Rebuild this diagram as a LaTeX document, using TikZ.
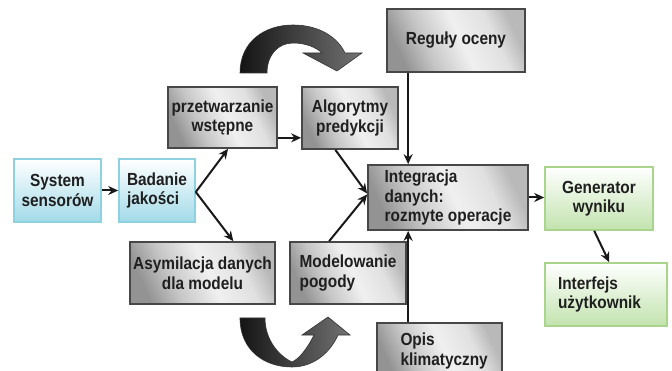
\documentclass[tikz,border=0pt]{standalone}
\usepackage{fontspec}
\setmainfont{Liberation Sans}[FakeStretch=0.88]
\usetikzlibrary{calc,arrows.meta}

\definecolor{blueedge}{HTML}{8ED2E2}
\definecolor{bluefill}{HTML}{A2DAE8}
\definecolor{greenedge}{HTML}{A8D48C}
\definecolor{greenfill}{HTML}{C2E3AE}
\definecolor{frame}{HTML}{474747}

% silver face of the grey process boxes
\pgfdeclarehorizontalshading{silverbox}{100bp}{%
  color(0bp)=(gray!85); color(25bp)=(gray!85); color(37bp)=(gray!45);
  color(52bp)=(gray!12); color(66bp)=(gray!24); color(75bp)=(gray!55);
  color(100bp)=(gray!55)}

\tikzset{
  lbl/.style={font=\fontsize{17.5}{19.5}\selectfont\bfseries, inner sep=0pt, text=black!88},
  greybox/.style={lbl, draw=frame, line width=1.7pt, shading=silverbox, shading angle=25},
  bluebox/.style={lbl, draw=blueedge, line width=1.6pt, top color=white, bottom color=bluefill},
  greenbox/.style={lbl, draw=greenedge, line width=1.6pt, top color=white, bottom color=greenfill},
  arr/.style={draw=black!90, line width=2pt, -{Stealth[length=10pt,width=9pt]}},
  bigarrow/.style={left color=black!92, right color=black!55, draw=black!80, line width=0.6pt}
}

\begin{document}
\begin{tikzpicture}[x=1pt,y=-1pt]
\useasboundingbox (0,0) rectangle (672,371);

% boxes
\node[bluebox, minimum width=87pt, minimum height=63pt, align=center] (sys) at (57.5,190.5) {System\\sensorów};
\node[bluebox, minimum width=76pt, minimum height=63pt, align=left] (bad) at (157,190.5) {Badanie\\jakości};
\node[greybox, minimum width=109pt, minimum height=61pt, align=center] (prz) at (222.5,117.5) {przetwarzanie\\wstępne};
\node[greybox, minimum width=96pt, minimum height=62pt, align=center] (alg) at (350,118) {Algorytmy\\predykcji};
\node[greybox, minimum width=138pt, minimum height=63pt, align=center] (reg) at (456,40.5) {Reguły oceny};
\node[greybox, minimum width=160pt, minimum height=65pt, align=left] (int) at (448,197.5) {Integracja\\danych:\\rozmyte operacje};
\node[greenbox, minimum width=108pt, minimum height=63pt, align=center] (gen) at (599,198.5) {Generator\\wyniku};
\node[greenbox, minimum width=122pt, minimum height=63pt, align=left, text width=96pt] (ifc) at (606,294.5) {Interfejs\\użytkownik};
\node[greybox, minimum width=145pt, minimum height=62pt, align=center] (asy) at (202.5,273) {Asymilacja danych\\dla modelu};
\node[greybox, minimum width=116pt, minimum height=62pt, align=left] (mod) at (348,273) {Modelowanie\\pogody};
\node[greybox, minimum width=125pt, minimum height=56pt, align=left, text width=78pt] (opis) at (439.5,351) {Opis\\klimatyczny};

% connectors
\draw[arr] (sys.east) -- (bad.west);
\draw[arr] ($(bad.east)+(0,1.5)$) -- ($(prz.south west)!0.55!(prz.south east)$);
\draw[arr] ($(bad.east)+(0,1.5)$) -- ($(asy.north west)!0.71!(asy.north east)$);
\draw[arr] ($(prz.south east)+(0,-11)$) -- ($(alg.south west)+(0,-12)$);
\draw[arr] ($(alg.south west)!0.35!(alg.south east)$) -- ($(int.west)+(0,-4)$);
\draw[arr] ($(mod.north west)!0.34!(mod.north east)$) -- ($(int.west)+(0,-3)$);
\draw[arr] ($(reg.south west)+(22,0)$) -- ($(int.north west)+(41,0)$);
\draw[arr] ($(opis.north west)+(32,0)$) -- ($(int.south west)+(41,0)$);
\draw[arr] (int.east) -- (int.east -| gen.west);
\draw[arr] ($(gen.south west)+(50,0)$) -- ($(ifc.north west)+(65,0)$);

% broad curved arrow above the upper branch
\path[bigarrow]
  (240,73) .. controls (240,42) and (264,25) .. (293,25)
  .. controls (320,25) and (338,38) .. (345,53)
  -- (362,53) -- (337,71) -- (303,53) -- (322,53)
  .. controls (316,47) and (305,43) .. (293,43)
  .. controls (278,43) and (267,55) .. (267,73) -- cycle;

% broad curved arrow below the lower branch
\path[bigarrow]
  (240,318) .. controls (240,350) and (264,367) .. (292,367)
  .. controls (315,367) and (331,351) .. (338,335)
  -- (350,335) -- (328,317) -- (302,335) -- (314,335)
  .. controls (307,349) and (299,359) .. (292,362)
  .. controls (279,356) and (265,340) .. (265,318) -- cycle;
\end{tikzpicture}
\end{document}
